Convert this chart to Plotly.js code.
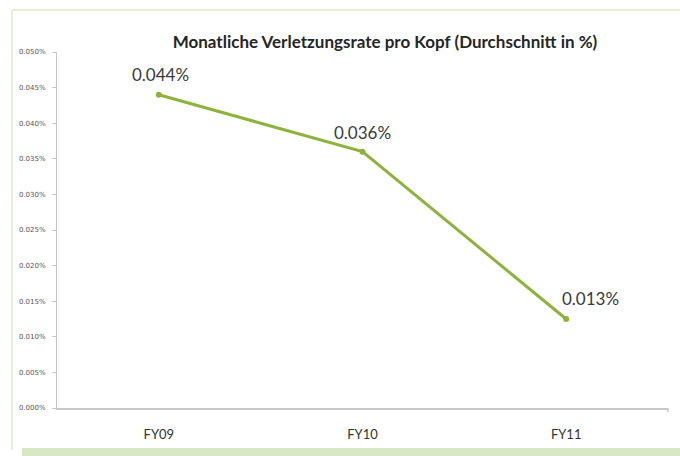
<!DOCTYPE html>
<html><head><meta charset="utf-8">
<script src="https://cdn.plot.ly/plotly-3.0.1.min.js"></script>
<style>html,body{margin:0;padding:0;background:#fff}#c{width:680px;height:456px}</style>
</head><body><div id="c"></div>
<script>
const categories = ["FY09", "FY10", "FY11"];
const values = [0.044, 0.036, 0.0125];
const labels = ["0.044%", "0.036%", "0.013%"];
const yTicks = [0, 0.005, 0.01, 0.015, 0.02, 0.025, 0.03, 0.035, 0.04, 0.045, 0.05];
const yTickLabels = yTicks.map(v => v.toFixed(3) + "%");

const W = 680, H = 456, L = 57, R = 12, T = 52, B = 48;
const pw = W - L - R, ph = H - T - B;
const px = x => (x - L) / pw;
const py = y => (H - B - y) / ph;
const labelShiftX = [2, 0, 24];
const labelShiftY = [20, 19, 21];

const trace = {
  x: categories, y: values,
  type: "scatter", mode: "lines+markers",
  line: {color: "#8cb43c", width: 3},
  marker: {color: "#8cb43c", size: 6},
  cliponaxis: false, hoverinfo: "none"
};

const annotations = categories.map((c, i) => ({
  x: c, y: values[i], xref: "x", yref: "y", text: labels[i], showarrow: false,
  xanchor: "center", yanchor: "middle", xshift: labelShiftX[i], yshift: labelShiftY[i],
  font: {family: "Lato, 'Open Sans', sans-serif", size: 17, color: "#3a3a3a"}
}));

const layout = {
  width: W, height: H,
  margin: {l: L, r: R, t: T, b: B},
  paper_bgcolor: "#fff", plot_bgcolor: "#fff",
  showlegend: false,
  annotations: annotations,
  title: {text: "<b>Monatliche Verletzungsrate pro Kopf (Durchschnitt in %)</b>",
          x: 385 / W, xanchor: "center", xref: "container", y: 1 - 42 / H, yanchor: "middle",
          font: {family: "Lato, 'Open Sans', sans-serif", size: 17, color: "#262626"}},
  xaxis: {
    type: "category", range: [-0.5, 2.5], showgrid: false, zeroline: false,
    showline: true, linecolor: "#c8c8c8", linewidth: 1.5,
    ticks: "", tickfont: {family: "Lato, 'Open Sans', sans-serif", size: 13, color: "#333"},
    ticklabelstandoff: 14
  },
  yaxis: {
    range: [0, 0.05], tickvals: yTicks, ticktext: yTickLabels,
    showgrid: false, zeroline: false, showline: true, linecolor: "#c8c8c8", linewidth: 1,
    ticks: "outside", ticklen: 4, tickcolor: "#c8c8c8", ticklabelstandoff: 5,
    tickfont: {family: "'DejaVu Sans', sans-serif", size: 7, color: "#555"}
  },
  shapes: [
    {type: "line", xref: "paper", yref: "paper", x0: px(12), x1: px(680), y0: py(10), y1: py(10),
     line: {color: "#dce8c8", width: 1.5}},
    {type: "line", xref: "paper", yref: "paper", x0: px(12), x1: px(12), y0: py(10), y1: py(450),
     line: {color: "#dce8c8", width: 1.5}},
    {type: "rect", xref: "paper", yref: "paper", x0: px(22), x1: px(680), y0: py(448), y1: py(456),
     fillcolor: "#d8e7c5", line: {width: 0}},
    {type: "line", xref: "paper", yref: "paper", x0: 1, x1: 1, y0: 0, y1: py(412),
     line: {color: "#c8c8c8", width: 1.5}}
  ]
};

Plotly.newPlot("c", [trace], layout, {staticPlot: true, displayModeBar: false});
</script></body></html>
